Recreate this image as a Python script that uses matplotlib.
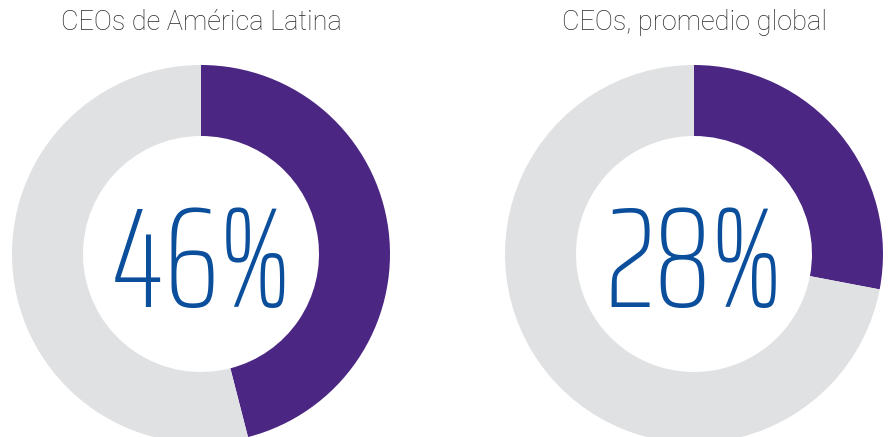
import matplotlib
matplotlib.use('Agg')
import matplotlib.pyplot as plt

titles = ['CEOs de América Latina', 'CEOs, promedio global']
shares = [46, 28]
labels = ['46%', '28%']

purple = '#4b2683'
grey = '#e0e1e3'
blue = '#0b4f9c'

fig = plt.figure(figsize=(8.88, 4.37), dpi=100)
ax = fig.add_axes([0, 0, 1, 1])

centers = [(201, 183), (694, 183)]
for (cx, cy), share, lab, title in zip(centers, shares, labels, titles):
    ax.pie([share, 100 - share], colors=[purple, grey], startangle=90,
           counterclock=False, center=(cx, cy), radius=189,
           wedgeprops=dict(width=71, linewidth=0))
    ax.text(cx, cy - 14, lab, ha='center', va='center', fontsize=102,
            color=blue, family='Saira ExtraCondensed', fontweight=250)
    ax.text(cx, 414, title, ha='center', va='center', fontsize=19.5,
            color='#2a2a2a', family='Roboto', fontweight='light')

ax.set_xlim(0, 888)
ax.set_ylim(0, 437)
ax.set_aspect('equal')
ax.axis('off')
fig.savefig('out.png', dpi=100)
